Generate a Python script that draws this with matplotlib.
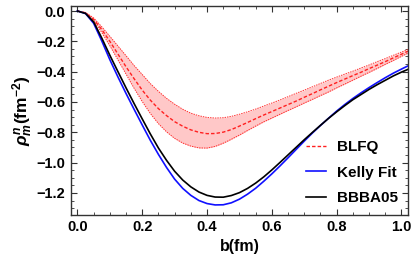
import matplotlib
matplotlib.use("Agg")
import matplotlib.pyplot as plt
from matplotlib.ticker import MultipleLocator

# impact parameter b (fm)
b = [0.0, 0.025, 0.05, 0.075, 0.1, 0.125, 0.15, 0.175, 0.2, 0.225, 0.25, 0.275, 0.3, 0.325,
     0.35, 0.375, 0.4, 0.425, 0.45, 0.475, 0.5, 0.525, 0.55, 0.575, 0.6, 0.625, 0.65, 0.675,
     0.7, 0.725, 0.75, 0.775, 0.8, 0.825, 0.85, 0.875, 0.9, 0.925, 0.95, 0.975, 1.0, 1.02]

kelly = [0.0, -0.017, -0.081, -0.197, -0.321, -0.435, -0.544, -0.649, -0.752, -0.853, -0.946,
         -1.032, -1.109, -1.170, -1.216, -1.250, -1.270, -1.279, -1.278, -1.265, -1.241, -1.208,
         -1.169, -1.123, -1.074, -1.022, -0.968, -0.913, -0.858, -0.805, -0.755, -0.707, -0.660,
         -0.617, -0.577, -0.540, -0.505, -0.472, -0.440, -0.410, -0.383, -0.362]

bbba05 = [0.0, -0.016, -0.072, -0.178, -0.292, -0.400, -0.507, -0.611, -0.712, -0.811, -0.904,
          -0.985, -1.057, -1.115, -1.160, -1.194, -1.216, -1.227, -1.228, -1.217, -1.198, -1.170,
          -1.135, -1.094, -1.048, -0.999, -0.949, -0.899, -0.849, -0.801, -0.754, -0.708, -0.665,
          -0.624, -0.585, -0.551, -0.517, -0.486, -0.457, -0.428, -0.403, -0.385]

blfq = [0.0, -0.012, -0.055, -0.122, -0.200, -0.284, -0.368, -0.447, -0.522, -0.588, -0.644,
        -0.690, -0.730, -0.760, -0.784, -0.800, -0.809, -0.808, -0.799, -0.782, -0.759, -0.735,
        -0.710, -0.686, -0.663, -0.640, -0.617, -0.594, -0.569, -0.545, -0.520, -0.496, -0.472,
        -0.449, -0.426, -0.404, -0.380, -0.357, -0.334, -0.309, -0.285, -0.265]

blfq_hi = [0.0, -0.010, -0.046, -0.104, -0.167, -0.231, -0.295, -0.360, -0.419, -0.479, -0.530,
           -0.576, -0.615, -0.648, -0.674, -0.691, -0.702, -0.706, -0.704, -0.695, -0.681, -0.665,
           -0.647, -0.627, -0.607, -0.587, -0.565, -0.543, -0.522, -0.500, -0.478, -0.456, -0.436,
           -0.416, -0.397, -0.376, -0.356, -0.334, -0.314, -0.292, -0.271, -0.254]

blfq_lo = [0.0, -0.015, -0.064, -0.141, -0.229, -0.322, -0.416, -0.510, -0.597, -0.676, -0.743,
           -0.797, -0.840, -0.871, -0.891, -0.903, -0.904, -0.893, -0.872, -0.846, -0.818, -0.788,
           -0.759, -0.731, -0.706, -0.681, -0.656, -0.632, -0.607, -0.583, -0.558, -0.534, -0.507,
           -0.482, -0.456, -0.430, -0.405, -0.379, -0.352, -0.326, -0.299, -0.278]

plt.rcParams["font.family"] = ["Liberation Sans", "DejaVu Sans"]
plt.rcParams["font.weight"] = "bold"
plt.rcParams["mathtext.fontset"] = "custom"
plt.rcParams["mathtext.rm"] = "Liberation Sans:bold"
plt.rcParams["mathtext.it"] = "Liberation Sans:bold:italic"
plt.rcParams["mathtext.bf"] = "Liberation Sans:bold"

fig = plt.figure(figsize=(4.15, 2.67), dpi=100)
ax = fig.add_axes([0.171, 0.195, 0.812, 0.7825])

ax.fill_between(b, blfq_lo, blfq_hi, color="#ffc8c8", lw=0)
ax.plot(b, blfq_hi, color="#ff3030", lw=0.7, ls=(0, (1.5, 1.0)))
ax.plot(b, blfq_lo, color="#ff3030", lw=0.7, ls=(0, (1.5, 1.0)))
ax.plot(b, blfq, color="#ff2020", lw=1.0, ls=(0, (2.5, 1.5)), label="BLFQ")
ax.plot(b, kelly, color="#1010ff", lw=1.2, label="Kelly Fit")
ax.plot(b, bbba05, color="black", lw=1.2, label="BBBA05")

ax.set_xlim(-0.02, 1.02)
ax.set_ylim(-1.345, 0.033)
ax.xaxis.set_major_locator(MultipleLocator(0.2))
ax.xaxis.set_minor_locator(MultipleLocator(0.05))
ax.yaxis.set_major_locator(MultipleLocator(0.2))
ax.yaxis.set_minor_locator(MultipleLocator(0.05))
ax.tick_params(which="both", direction="in", top=True, right=True, labelsize=10.5, colors="#333333",
               labelcolor="black")
ax.tick_params(which="major", length=4, width=0.8, pad=4)
ax.tick_params(which="minor", length=2, width=0.6)
ax.xaxis.set_major_formatter(plt.FuncFormatter(lambda v, p: f"{v:.1f}".replace("-", "\u2212")))
ax.yaxis.set_major_formatter(plt.FuncFormatter(lambda v, p: f"{v:.1f}".replace("-", "\u2212")))
for s in ax.spines.values():
    s.set_color("#333333")
    s.set_linewidth(1.0)

ax.set_xlabel("b(fm)", fontsize=11.5, fontweight="bold", labelpad=3)
ax.set_ylabel(r"$\rho_m^n$(fm$^{-2}$)", fontsize=12.5, fontweight="bold", labelpad=1)

ax.legend(loc="lower right", frameon=False, fontsize=11, handlelength=1.3, handletextpad=0.7,
          labelspacing=0.75, borderaxespad=0.25)

fig.savefig("out.png", dpi=100)
